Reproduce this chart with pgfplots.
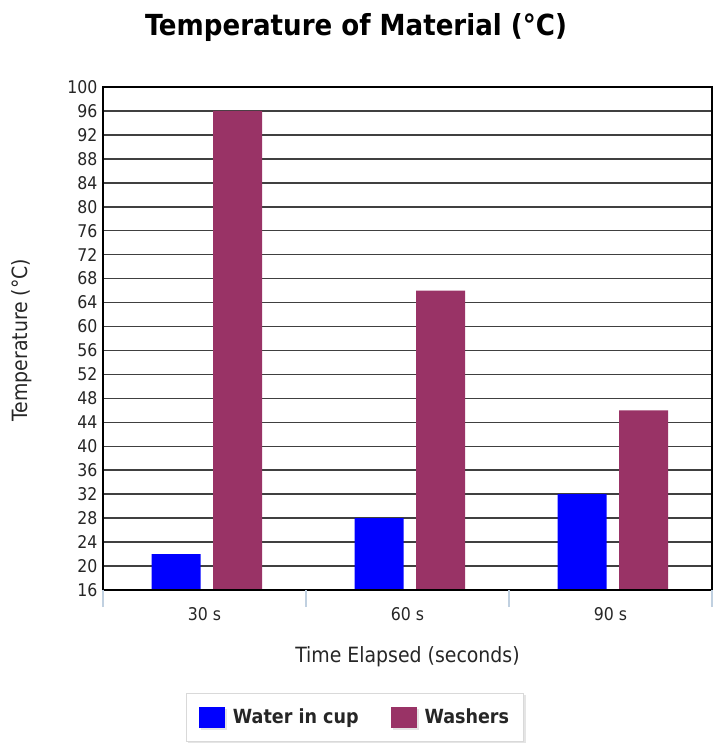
\documentclass[border=0pt]{standalone}
\usepackage{fontspec}
\setmainfont{DejaVu Sans Condensed}
\usepackage{pgfplots}
\pgfplotsset{compat=1.18}
\usetikzlibrary{shadows}
\definecolor{washer}{HTML}{993366}
\definecolor{sep}{HTML}{C0D0E0}
\begin{document}
\begin{tikzpicture}[x=1pt,y=1pt]
\path[use as bounding box] (0,0) rectangle (716,747);
\begin{axis}[
 at={(103pt,157pt)}, anchor=south west,
 scale only axis, width=609pt, height=503pt,
 xmin=-0.5, xmax=2.5, ymin=16, ymax=100,
 ytick={16,20,...,100},
 xtick={0,1,2}, xticklabels={30 s,60 s,90 s},
 xtick pos=bottom, ytick pos=left,
 major tick length=0pt,
 extra x ticks={-0.5,0.5,1.5,2.5}, extra x tick labels={},
 extra x tick style={major tick length=17pt, tick align=outside, tick style={sep, line width=1.2pt}, grid=none},
 ymajorgrids, grid style={black!75, line width=1.5pt},
 axis line style={black, line width=2.5pt},
 tick label style={font=\fontsize{17.5}{20}\selectfont, text=black!85},
 /pgf/number format/assume math mode=true,
 yticklabel style={xshift=-2pt},
 xticklabel style={yshift=-14pt},
 xlabel={Time Elapsed (seconds)},
 xlabel style={at={(axis description cs:0.5,-0.133)}, anchor=center, font=\fontsize{21}{24}\selectfont, text=black!85},
 ylabel={Temperature (°C)},
 ylabel style={at={(axis description cs:-0.133,0.497)}, anchor=center, font=\fontsize{21}{24}\selectfont, text=black!85},
 title={Temperature of Material (°C)},
 title style={at={(axis description cs:0.4154,1.0895)}, anchor=base, font=\fontsize{29}{32}\selectfont\bfseries},
 legend columns=2,
 legend style={at={(axis description cs:0.4138,-0.2525)}, anchor=center, draw=black!15, line width=1pt,
   font=\fontsize{19.5}{22}\selectfont\bfseries, text=black!85, inner xsep=12.5pt, inner ysep=13.5pt,
   drop shadow={shadow xshift=2pt, shadow yshift=-2pt, fill=black!20},
   /tikz/every odd column/.append style={column sep=6pt},
   /tikz/every even column/.append style={column sep=30pt}},
 ybar, bar width=49pt,
]
\addplot[fill=blue, draw=none, bar shift=-28.5pt,
  legend image code/.code={\fill[blue] (0pt,-10.5pt) rectangle (26pt,10.5pt);}] coordinates {(0,22) (1,28) (2,32)};
\addplot[fill=washer, draw=none, bar shift=33pt,
  legend image code/.code={\fill[washer] (0pt,-10.5pt) rectangle (26pt,10.5pt);}] coordinates {(0,96) (1,66) (2,46)};
\legend{Water in cup, Washers}
\draw[black, line width=2.5pt] (rel axis cs:0,0) rectangle (rel axis cs:1,1);
\end{axis}
\end{tikzpicture}
\end{document}
